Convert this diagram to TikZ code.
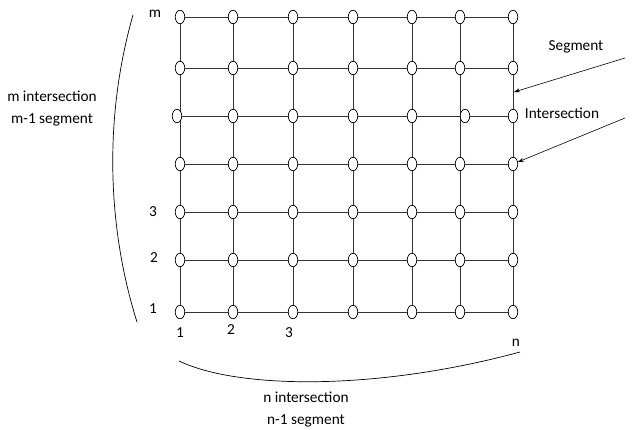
\documentclass[tikz,border=0pt]{standalone}
\usepackage{fontspec}
\setmainfont{Carlito}
\usetikzlibrary{arrows.meta,shapes.geometric}

\begin{document}
\begin{tikzpicture}[
  x=1pt, y=-1pt,
  crossing/.style={ellipse, draw, fill=white, minimum width=9.5pt, minimum height=13.5pt, inner sep=0pt, line width=0.7pt},
  segline/.style={draw=black!80, line width=0.8pt},
  lbl/.style={font=\fontsize{15.3}{22}\selectfont, inner sep=0pt, align=center},
  pointer/.style={-{Stealth[length=6pt,width=4pt]}, line width=0.6pt}
]
\useasboundingbox (0,0) rectangle (636,429);

% grid points (row 1 at the bottom, row 7 = m at the top)
\foreach \c/\x in {1/180,2/233,3/293,4/353,5/412,6/460,7/513}
  \foreach \r/\y in {1/312,2/260,3/212,4/164,5/116,6/68,7/17}
    \coordinate (g-\r-\c) at (\x,\y);

% segments
\foreach \r in {1,...,7}
  \draw[segline] (g-\r-1) -- (g-\r-7);
\foreach \c in {1,...,7}
  \draw[segline] (g-1-\c) -- (g-7-\c);

% intersections
\foreach \r in {1,...,7}
  \foreach \c in {1,...,7} {
    \pgfmathsetmacro\dx{(\r==5)*((\c==1)*(-3)+(\c==6)*5)}
    \node[crossing] (n-\r-\c) at ([xshift=\dx pt]g-\r-\c) {};
  }

% row and column numbers
\node[lbl] (row-m) at (155,14) {m};
\node[lbl] (row-3) at (153,212) {3};
\node[lbl] (row-2) at (154,258) {2};
\node[lbl] (row-1) at (153,309) {1};
\node[lbl] (col-1) at (180,333) {1};
\node[lbl] (col-2) at (231,330) {2};
\node[lbl] (col-3) at (289,333) {3};
\node[lbl] (col-n) at (516,343) {n};

% braces
\coordinate (lb-top) at (133,15);
\coordinate (lb-bot) at (137,322);
\draw[line width=0.7pt] (lb-top) .. controls (103,120) and (108,230) .. (lb-bot);
\coordinate (bb-left) at (179,361);
\coordinate (bb-right) at (520,352);
\draw[line width=0.7pt] (bb-left) .. controls (240,390) and (380,390) .. (bb-right);

\node[lbl] (m-count) at (52,109) {m intersection\\m-1 segment};
\node[lbl] (n-count) at (306,410) {n intersection\\n-1 segment};

% pointers
\node[lbl] (segment) at (576,47) {Segment};
\node[lbl] (intersection) at (562,113) {Intersection};
\coordinate (seg-tail) at (625,58);
\coordinate (seg-tip) at (514,92);
\draw[pointer] (seg-tail) -- (seg-tip);
\coordinate (int-tail) at (625,118);
\draw[pointer] (int-tail) -- (n-4-7);
\end{tikzpicture}
\end{document}
